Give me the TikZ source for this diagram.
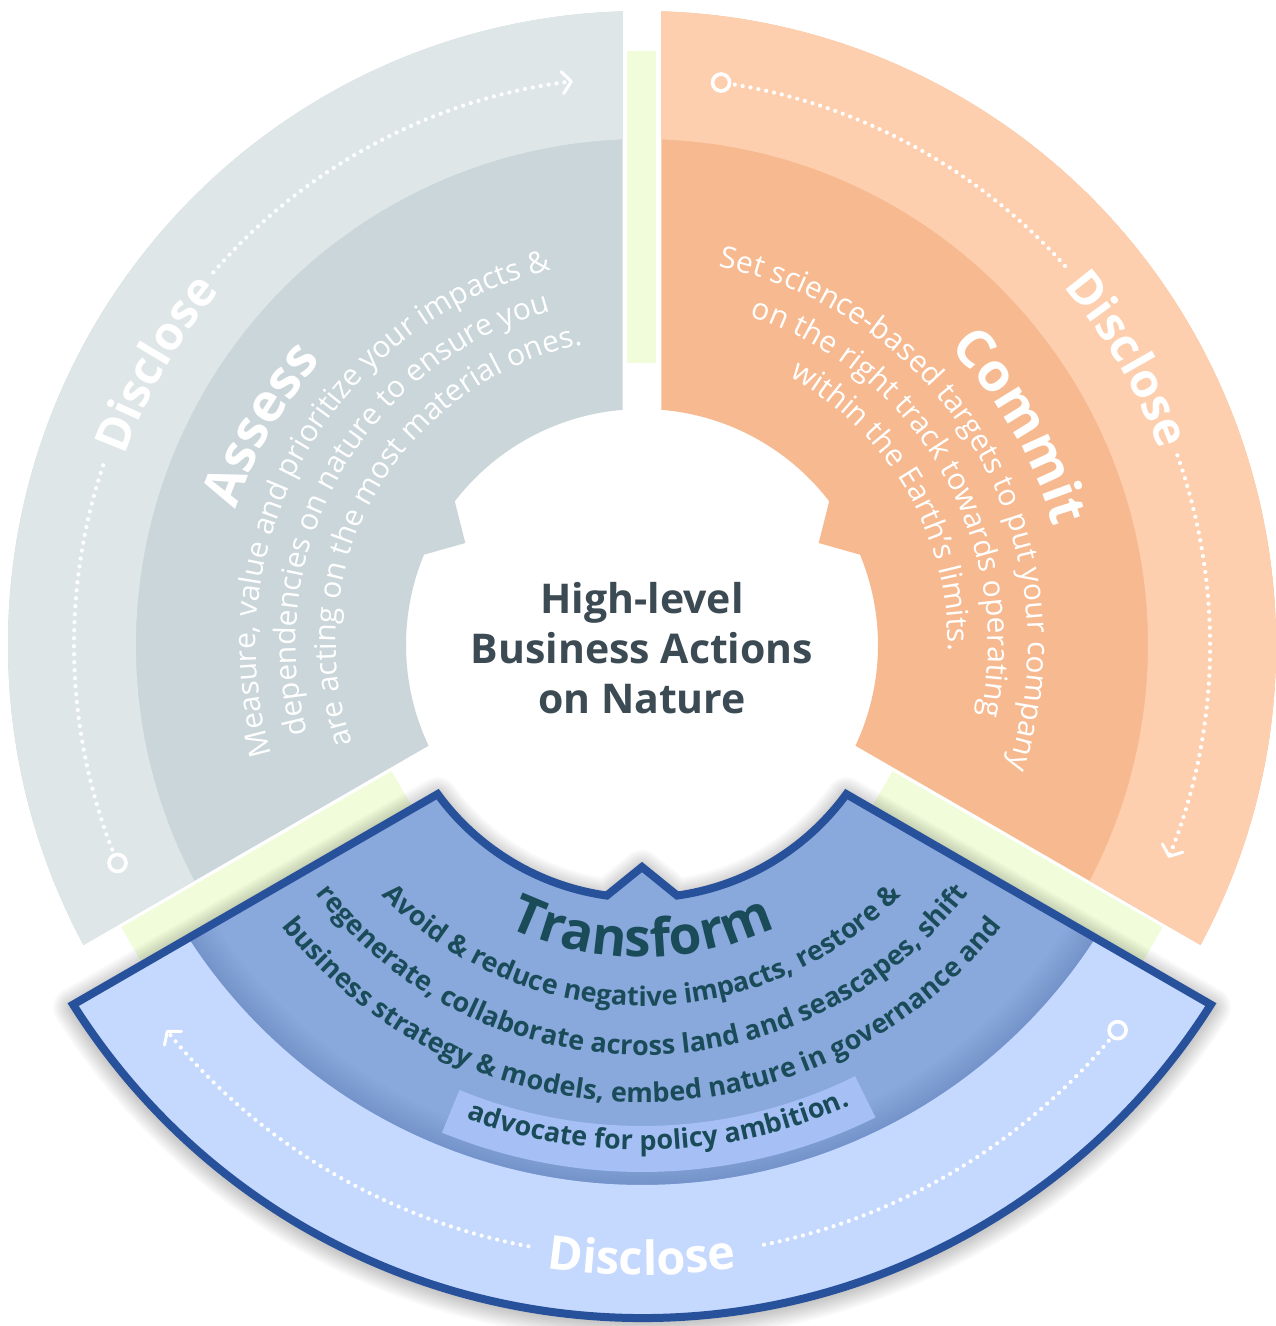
\documentclass[tikz,border=0pt]{standalone}
\usepackage{fontspec}
\setmainfont{Open Sans}
\usetikzlibrary{decorations.text,arrows.meta}

\definecolor{grayOut}{HTML}{DFE6E8}
\definecolor{grayIn}{HTML}{CAD6DA}
\definecolor{orOut}{HTML}{FDCFAE}
\definecolor{orIn}{HTML}{F7BA90}
\definecolor{leaf}{HTML}{F1FCDA}
\definecolor{blOut}{HTML}{C5D8FD}
\definecolor{blIn}{HTML}{89A8DC}
\definecolor{blBand}{HTML}{A6C0F6}
\definecolor{blEdge}{HTML}{28519B}
\definecolor{deepteal}{HTML}{1A4B58}
\definecolor{slate}{HTML}{3C4B53}

\newcommand\dgTitle{\fontsize{53}{56}\selectfont\bfseries}
\newcommand\dgDesc{\fontsize{30}{34}\selectfont}
\newcommand\dgBlue{\fontsize{27}{32}\selectfont\bfseries}
\newcommand\dgDisc{\fontsize{47}{50}\selectfont\bfseries}

\tikzset{
  % ring sectors (origin = centre of the wheel, 1 unit = 1pt)
  graysector/.style={insert path={(91.762:634) arc[start angle=91.762,end angle=208.238,radius=634]
      -- (205.26:236) arc[start angle=205.26,end angle=157.5,radius=236] -- (150:204)
      -- (142.5:236) arc[start angle=142.5,end angle=94.74,radius=236] -- cycle}},
  grayring/.style={insert path={(91.762:634) arc[start angle=91.762,end angle=208.238,radius=634]
      -- (207.792:506) arc[start angle=207.792,end angle=92.208,radius=506] -- cycle}},
  orangesector/.style={insert path={(-28.238:634) arc[start angle=-28.238,end angle=88.238,radius=634]
      -- (85.26:236) arc[start angle=85.26,end angle=37.5,radius=236] -- (30:204)
      -- (22.5:236) arc[start angle=22.5,end angle=-25.26,radius=236] -- cycle}},
  orangering/.style={insert path={(-28.238:634) arc[start angle=-28.238,end angle=88.238,radius=634]
      -- (87.792:506) arc[start angle=87.792,end angle=-27.792,radius=506] -- cycle}},
  bluesector/.style={insert path={(212.3:673) arc[start angle=212.3,end angle=327.7,radius=673]
      -- (323.873:253) arc[start angle=323.873,end angle=278,radius=253] -- (270:222)
      -- (262:253) arc[start angle=262,end angle=216.127,radius=253] -- cycle}},
  bluering/.style={insert path={(212.3:673) arc[start angle=212.3,end angle=327.7,radius=673]
      -- (327.134:540) arc[start angle=327.134,end angle=212.866,radius=540] -- cycle}},
  blueband/.style={insert path={(247.7:481) arc[start angle=247.7,end angle=296.3,radius=481]
      -- (296.3:527) arc[start angle=296.3,end angle=247.7,radius=527] -- cycle}},
  arctext/.style={decorate, decoration={text along path, text align=center, text={#1}}},
  dotline/.style={draw=white, line width=4.2pt, line cap=round, dash pattern=on 0pt off 8pt},
  flowtip/.style={-{Straight Barb[length=9pt,width=22pt,line width=3pt,round]}},
  ringmark/.style={circle, draw=white, line width=3.6pt, minimum size=17pt, inner sep=0pt},
}

\begin{document}
\begin{tikzpicture}[x=1pt,y=1pt]
\useasboundingbox (-642,-681) rectangle (634,645);
\fill[white] (-642,-681) rectangle (634,645);

% --- Assess (grey) and Commit (orange) sectors
\fill[grayIn, graysector];
\fill[grayOut, grayring];
\fill[orIn, orangesector];
\fill[orOut, orangering];

% --- pale green spacer bars
\fill[leaf, rotate=90] (282,-14.5) rectangle (594,14.5);
\fill[leaf, rotate=210] (280,-16) rectangle (592,26);
\fill[leaf, rotate=330] (280,-26) rectangle (592,16);

% --- Transform (blue) sector: soft shadow, fills, border
\foreach \k [evaluate=\k as \lw using \k*4] in {1,...,10}{
  \path[draw=black, draw opacity=0.024, line width=\lw pt, line join=round, yshift=-3, bluesector];
}
\fill[blIn, bluesector];
\begin{scope}
  \clip[bluesector];
  \foreach \k in {1,...,10}{
    \fill[blEdge, opacity=0.02, even odd rule] (0,0) circle[radius=540] (0,0) circle[radius=540-3*\k];
  }
\end{scope}
\fill[blOut, bluering];
\fill[blBand, blueband];
\draw[blEdge, line width=8pt, miter limit=10, bluesector];

% --- centre title
\node[font=\fontsize{41}{50}\selectfont\bfseries, text=slate, align=center] (hub) at (0,-3)
  {High-level\\Business Actions\\on Nature};

% --- Assess texts (clockwise)
\path[arctext={|\color{white}\dgTitle|Assess}] (230:428) arc[start angle=230,end angle=70,radius=428];
\path[arctext={|\color{white}\dgDesc|Measure, value and prioritize your impacts {\&}}]
  (230:386) arc[start angle=230,end angle=70,radius=386];
\path[arctext={|\color{white}\dgDesc|dependencies on nature to ensure you}]
  (230:346) arc[start angle=230,end angle=70,radius=346];
\path[arctext={|\color{white}\dgDesc|are acting on the most material ones.}]
  (230:306) arc[start angle=230,end angle=70,radius=306];
\path[arctext={|\color{white}\dgDisc|Disclose}] (200:551) arc[start angle=200,end angle=100,radius=551];

% --- Commit texts (clockwise)
\path[arctext={|\color{white}\dgTitle|Commit}] (110:428) arc[start angle=110,end angle=-50,radius=428];
\path[arctext={|\color{white}\dgDesc|Set science-based targets to put your company}]
  (110:386) arc[start angle=110,end angle=-50,radius=386];
\path[arctext={|\color{white}\dgDesc|on the right track towards operating}]
  (110:346) arc[start angle=110,end angle=-50,radius=346];
\path[arctext={|\color{white}\dgDesc|within the Earth’s limits.}]
  (110:306) arc[start angle=110,end angle=-50,radius=306];
\path[arctext={|\color{white}\dgDisc|Disclose}] (80.5:553) arc[start angle=80.5,end angle=-19.5,radius=553];

% --- Transform texts (counter-clockwise)
\path[arctext={|\color{deepteal}\dgTitle|Transform}] (190:312) arc[start angle=190,end angle=350,radius=312];
\path[arctext={|\color{deepteal}\dgBlue|Avoid {\&} reduce negative impacts, restore {\&}}]
  (190:361) arc[start angle=190,end angle=350,radius=361];
\path[arctext={|\color{deepteal}\dgBlue|regenerate, collaborate across land and seascapes, shift}]
  (190:410) arc[start angle=190,end angle=350,radius=410];
\path[arctext={|\color{deepteal}\dgBlue|business strategy {\&} models, embed nature in governance and}]
  (190:457) arc[start angle=190,end angle=350,radius=457];
\path[arctext={|\color{deepteal}\dgBlue|advocate for policy ambition.}]
  (222:505) arc[start angle=222,end angle=322,radius=505];
\path[arctext={|\color{white}\dgDisc|Disclose}] (220:630) arc[start angle=220,end angle=320,radius=630];

% --- Disclose flow markers: start rings, dotted arcs, arrow tips
\node[ringmark] (gstart) at (202.57:568) {};
\coordinate (ga) at (201.1:568);
\coordinate (gb) at (139:568);
\draw[dotline] (ga) arc[start angle=201.1,end angle=161,radius=568];
\draw[dotline, flowtip] (gb) arc[start angle=139,end angle=97,radius=568];

\node[ringmark] (ostart) at (82:568) {};
\coordinate (oa) at (80.6:568);
\coordinate (ob) at (19.5:568);
\draw[dotline] (oa) arc[start angle=80.6,end angle=41.5,radius=568];
\draw[dotline, flowtip] (ob) arc[start angle=19.5,end angle=-22,radius=568];

\node[ringmark] (bstart) at (321:612) {};
\coordinate (ba) at (319.7:612);
\coordinate (bb) at (259.3:612);
\draw[dotline] (ba) arc[start angle=319.7,end angle=280.8,radius=612];
\draw[dotline, flowtip] (bb) arc[start angle=259.3,end angle=219,radius=612];
\end{tikzpicture}
\end{document}
